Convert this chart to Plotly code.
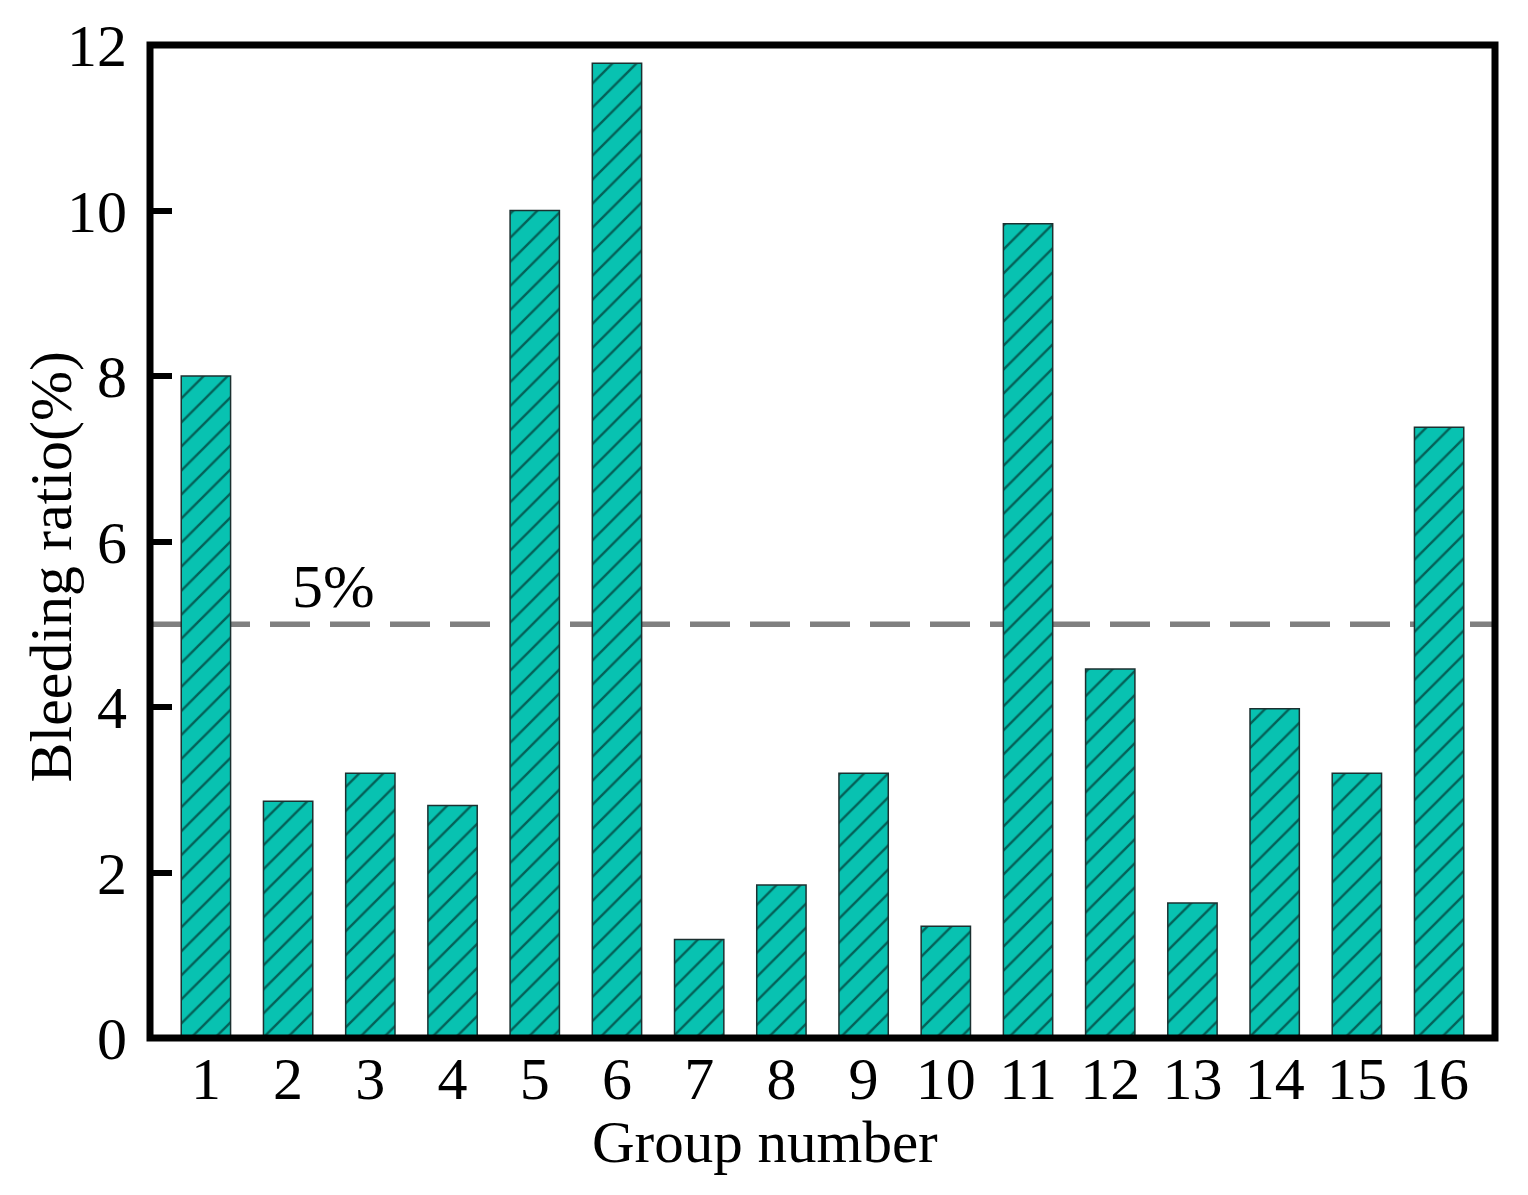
import plotly.graph_objects as go

groups = [str(i) for i in range(1, 17)]
x_pos = list(range(1, 17))
bleeding = [8.0, 2.86, 3.2, 2.81, 10.0, 11.78, 1.19, 1.85, 3.2, 1.35, 9.84, 4.46, 1.63, 3.98, 3.2, 7.38]
threshold = 5.0
y_ticks = [0, 2, 4, 6, 8, 10, 12]
x_title = "Group number"
y_title = "Bleeding ratio(%)"

font_family = "Liberation Serif"

fig = go.Figure()
fig.add_trace(go.Bar(
    x=x_pos, y=bleeding, width=0.6,
    marker=dict(
        color="#08C2B1",
        line=dict(color="#1c3030", width=1.5),
        pattern=dict(shape="/", fgcolor="#000000", bgcolor="#08C2B1",
                     size=17, solidity=0.14, fillmode="overlay"),
    ),
    showlegend=False,
))

fig.add_shape(type="line", xref="paper", yref="y", x0=0, x1=1, y0=threshold, y1=threshold,
              line=dict(color="#808080", width=5.5, dash="40px,20px"), layer="below")
# frame
fig.add_shape(type="rect", xref="paper", yref="paper", x0=0, x1=1, y0=0, y1=1,
              line=dict(color="black", width=7), fillcolor="rgba(0,0,0,0)", layer="above")

fig.add_annotation(x=2.55, y=threshold, yshift=38, text="5%", showarrow=False,
                   font=dict(family=font_family, size=62, color="black"))
fig.add_annotation(xref="paper", yref="paper", x=0.4575, y=0, yshift=-104, yanchor="middle",
                   text=x_title, showarrow=False,
                   font=dict(family=font_family, size=59, color="black"))
fig.add_annotation(xref="paper", yref="paper", x=0, y=0.5, xshift=-100, yshift=-25,
                   xanchor="center", yanchor="middle", textangle=-90,
                   text=y_title, showarrow=False,
                   font=dict(family=font_family, size=60, color="black"))

fig.update_layout(
    width=1528, height=1195,
    margin=dict(l=142, r=41, t=37, b=165, autoexpand=False),
    plot_bgcolor="white", paper_bgcolor="white",
    font=dict(family=font_family, size=60, color="black"),
)
fig.update_xaxes(
    range=[0.32, 16.68], tickvals=x_pos, ticktext=groups, ticks="",
    showline=False, anchor="free", position=0,
    showgrid=False, zeroline=False, automargin=False,
    tickfont=dict(size=60),
)
fig.update_yaxes(
    range=[0, 12], tickvals=y_ticks, ticks="inside", ticklen=22, tickwidth=6, tickcolor="black",
    showline=False, domain=[0, 1], ticklabelstandoff=22,
    showgrid=False, zeroline=False, automargin=False,
    tickfont=dict(size=60),
)

fig.write_html("out.html")
